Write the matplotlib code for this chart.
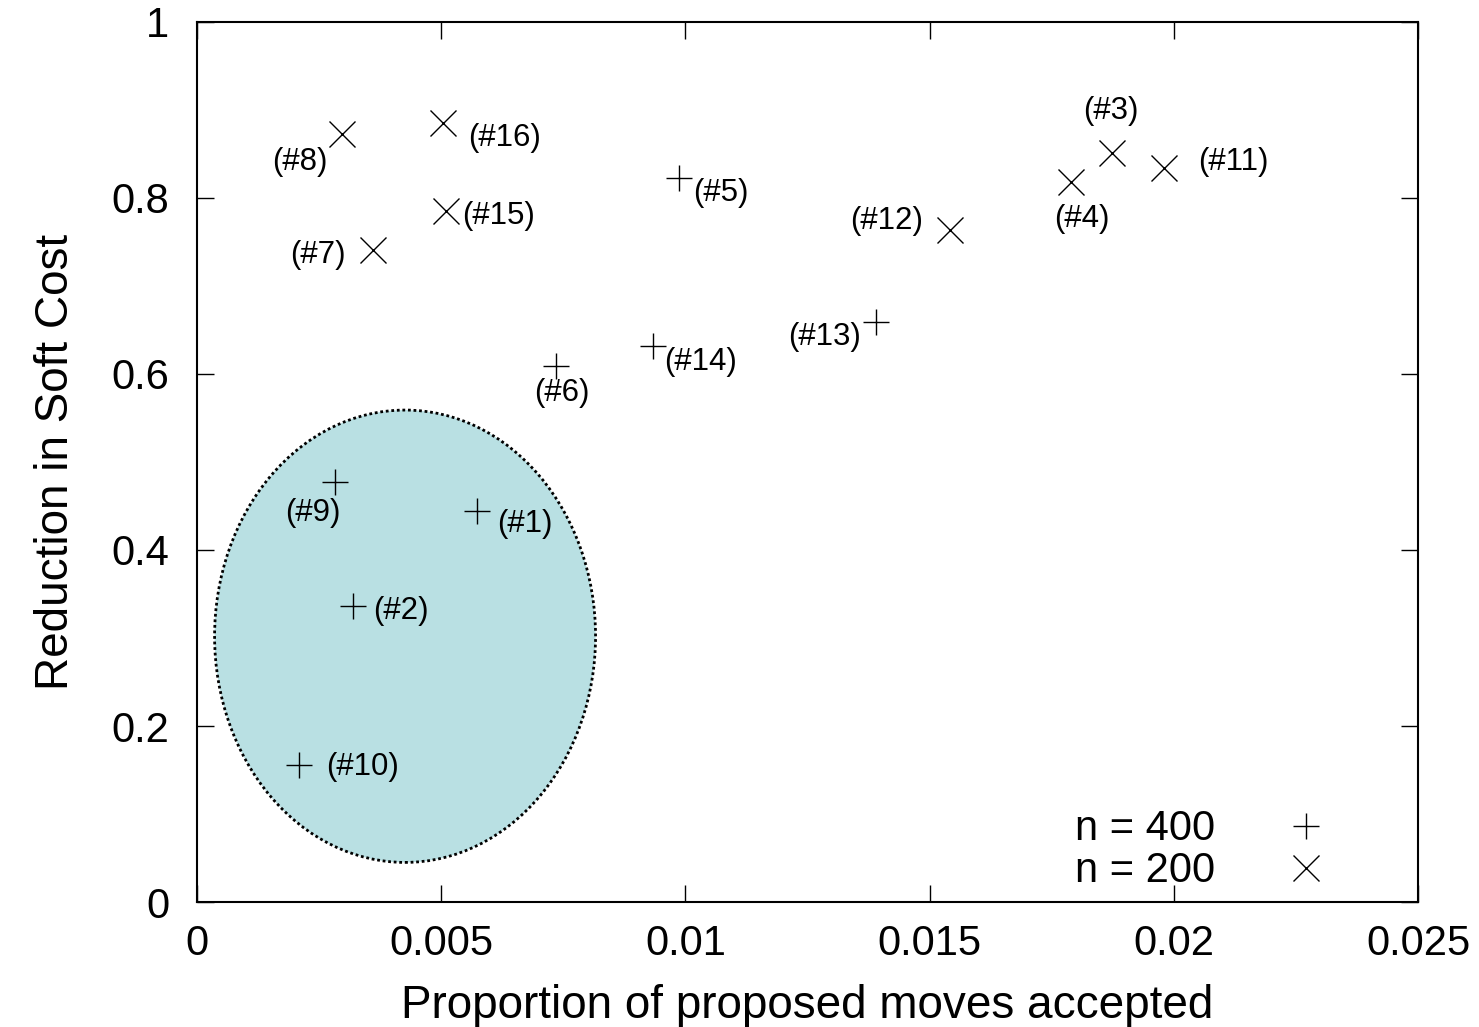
import matplotlib
matplotlib.use('Agg')
import matplotlib.pyplot as plt
from matplotlib.patches import Ellipse

plt.rcParams['font.family'] = ['Liberation Sans', 'DejaVu Sans']

# n = 400 runs (plus markers)
ids_400 = ['#9', '#1', '#2', '#10', '#6', '#14', '#13', '#5']
x_400 = [0.00283, 0.00573, 0.00319, 0.00209, 0.00735, 0.00934, 0.0139, 0.00987]
y_400 = [0.477, 0.444, 0.336, 0.156, 0.609, 0.632, 0.659, 0.823]

# n = 200 runs (cross markers)
ids_200 = ['#8', '#16', '#15', '#7', '#12', '#4', '#3', '#11']
x_200 = [0.00297, 0.00504, 0.00510, 0.00360, 0.01542, 0.01790, 0.01873, 0.01980]
y_200 = [0.873, 0.885, 0.785, 0.741, 0.764, 0.818, 0.851, 0.834]

# label offsets in pixels (dx, dy), picked by eye
offs = {'#9': (-22, -31), '#1': (48, -13), '#2': (48, -5), '#10': (63, -2),
        '#6': (6, -27), '#14': (47, -16), '#13': (-51, -15), '#5': (42, -15),
        '#8': (-42, -28), '#16': (61, -15), '#15': (52, -5), '#7': (-55, -5),
        '#12': (-64, 9), '#4': (11, -37), '#3': (-1, 42), '#11': (69, 6)}

fig = plt.figure(figsize=(14.79, 10.27), dpi=100)
ax = fig.add_axes([0.1332, 0.1217, 0.8256, 0.8569])

# shaded group of low acceptance runs
ell = Ellipse((0.00426, 0.302), 0.0078, 0.514, facecolor='#b9e0e3',
              edgecolor='black', linestyle=(0, (1, 1)), linewidth=2, zorder=1)
ax.add_patch(ell)

ax.plot(x_400, y_400, linestyle='none', marker='+', markersize=19, mew=1,
        color='black', label='n = 400', zorder=3)
ax.plot(x_200, y_200, linestyle='none', marker='x', markersize=19, mew=1,
        color='black', label='n = 200', zorder=3)

for ids, xs, ys in [(ids_400, x_400, y_400), (ids_200, x_200, y_200)]:
    for name, xv, yv in zip(ids, xs, ys):
        ax.annotate('(' + name + ')', (xv, yv), xytext=offs[name],
                    textcoords='offset pixels', ha='center', va='center',
                    fontsize=22.5, zorder=4)

ax.set_xlim(0, 0.025)
ax.set_ylim(0, 1)
ax.set_xticks([0, 0.005, 0.01, 0.015, 0.02, 0.025])
ax.set_xticklabels(['0', '0.005', '0.01', '0.015', '0.02', '0.025'])
ax.set_yticks([0, 0.2, 0.4, 0.6, 0.8, 1])
ax.set_yticklabels(['0', '0.2', '0.4', '0.6', '0.8', '1'])
ax.tick_params(direction='in', length=12, width=1, labelsize=30,
               top=True, right=True, pad=16)
ax.tick_params(axis='y', pad=20)
for s in ax.spines.values():
    s.set_linewidth(1.5)

ax.set_xlabel('Proportion of proposed moves accepted', fontsize=33, labelpad=14)
ax.set_ylabel('Reduction in Soft Cost', fontsize=33, labelpad=24)

ax.legend(loc='lower right', bbox_to_anchor=(0.958, -0.021), frameon=False,
          markerfirst=False, fontsize=30, handlelength=1.5, handletextpad=1.45,
          labelspacing=0.05, borderaxespad=0.3)

fig.savefig('out.png', dpi=100)
